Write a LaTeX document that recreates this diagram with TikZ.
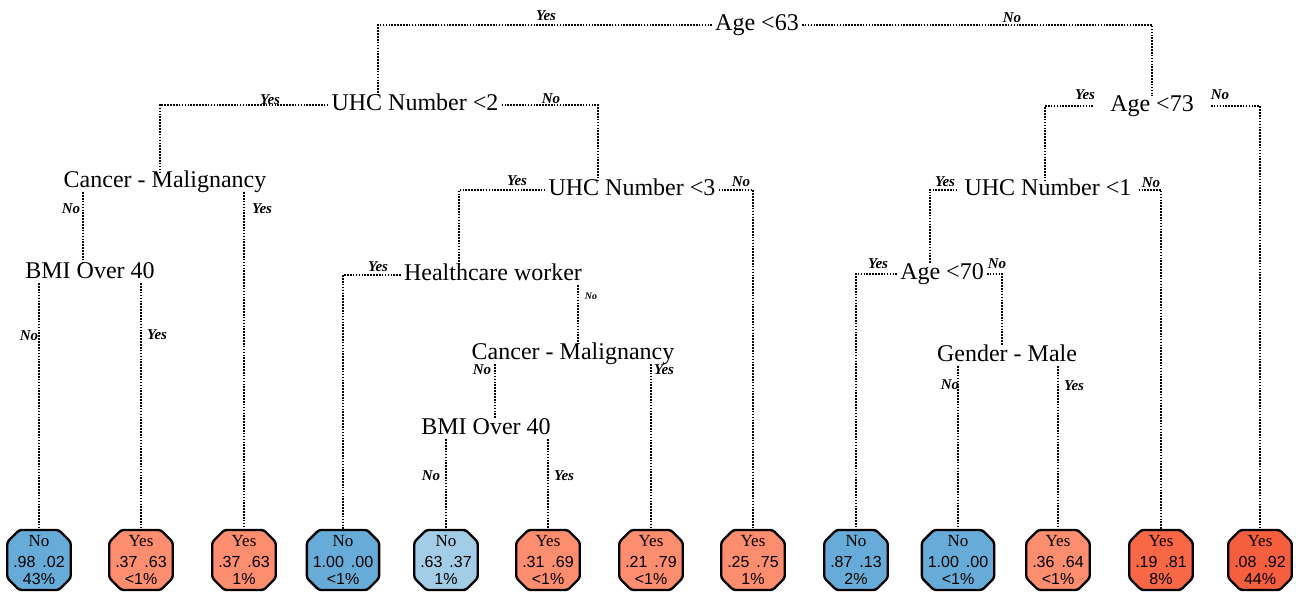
\documentclass[tikz,border=0pt]{standalone}
\usepackage{fontspec}
\setmainfont{Liberation Serif}
\setsansfont{Liberation Sans}
\usetikzlibrary{shapes.misc,backgrounds}
\definecolor{bluedark}{RGB}{103,172,216}
\definecolor{bluelight}{RGB}{163,205,230}
\definecolor{salmon}{RGB}{252,141,110}
\definecolor{redmid}{RGB}{248,103,70}
\definecolor{reddark}{RGB}{245,95,62}
\newcommand{\leaftext}[4]{{\rmfamily\fontsize{17}{17}\selectfont #1}\\[4pt]#2\hspace{7pt}#3\\#4}
\begin{document}
\begin{tikzpicture}[x=1pt,y=-1pt,
  split/.style={inner xsep=3pt, inner ysep=0pt, text height=16pt, text depth=4pt,
    font=\fontsize{24}{26}\selectfont},
  lab/.style={inner sep=0pt, font=\fontsize{15}{17}\selectfont\bfseries\itshape},
  smalllab/.style={inner sep=0pt, font=\fontsize{10}{12}\selectfont\bfseries\itshape},
  edge/.style={line width=2.2pt, dash pattern=on 1.6pt off 1.3pt},
  leaf/.style={chamfered rectangle, chamfered rectangle xsep=6pt, chamfered rectangle ysep=6pt,
    rounded corners=2.5pt, draw=black, line width=2.4pt, minimum width=55pt, minimum height=54pt,
    inner sep=0pt, text height=48pt, text depth=-7pt, align=center,
    font=\sffamily\fontsize{16}{17}\selectfont}]
\useasboundingbox (0,0) rectangle (1296,593);

% split nodes
\node[split] (root) at (757,25) {Age <63};
\node[split] (uhc2) at (415,105) {UHC Number <2};
\node[split] (c1) at (165,182) {Cancer - Malignancy};
\node[split] (bmi1) at (90,273) {BMI Over 40};
\node[split] (uhc3) at (632,190) {UHC Number <3};
\node[split] (hw) at (493,275) {Healthcare worker};
\node[split] (c2) at (573,354) {Cancer - Malignancy};
\node[split] (bmi2) at (486,429) {BMI Over 40};
\node[split, inner xsep=17pt] (age73) at (1152,106) {Age <73};
\node[split, inner xsep=7pt] (uhc1) at (1048,190) {UHC Number <1};
\node[split] (age70) at (942,274) {Age <70};
\node[split] (gm) at (1007,356) {Gender - Male};

% leaves
\node[leaf, fill=bluedark] (leaf1) at (39,560) {\leaftext{No}{.98}{.02}{43\%}};
\node[leaf, fill=salmon] (leaf2) at (141,560) {\leaftext{Yes}{.37}{.63}{<1\%}};
\node[leaf, fill=salmon] (leaf3) at (244,560) {\leaftext{Yes}{.37}{.63}{1\%}};
\node[leaf, fill=bluedark] (leaf4) at (343,560) {\leaftext{No}{1.00}{.00}{<1\%}};
\node[leaf, fill=bluelight] (leaf5) at (446,560) {\leaftext{No}{.63}{.37}{1\%}};
\node[leaf, fill=salmon] (leaf6) at (548,560) {\leaftext{Yes}{.31}{.69}{<1\%}};
\node[leaf, fill=salmon] (leaf7) at (651,560) {\leaftext{Yes}{.21}{.79}{<1\%}};
\node[leaf, fill=salmon] (leaf8) at (753,560) {\leaftext{Yes}{.25}{.75}{1\%}};
\node[leaf, fill=bluedark] (leaf9) at (856,560) {\leaftext{No}{.87}{.13}{2\%}};
\node[leaf, fill=bluedark] (leaf10) at (958,560) {\leaftext{No}{1.00}{.00}{<1\%}};
\node[leaf, fill=salmon] (leaf11) at (1058,560) {\leaftext{Yes}{.36}{.64}{<1\%}};
\node[leaf, fill=redmid] (leaf12) at (1161,560) {\leaftext{Yes}{.19}{.81}{8\%}};
\node[leaf, fill=reddark] (leaf13) at (1260,560) {\leaftext{Yes}{.08}{.92}{44\%}};

% edges
\begin{scope}[on background layer]
\draw[edge] (root.west) -| ([xshift=-37pt]uhc2.north);
\draw[edge] (root.east) -| (age73.north);
\draw[edge] (uhc2.west) -| ([xshift=-5pt]c1.north);
\draw[edge] (uhc2.east) -| ([xshift=-34pt]uhc3.north);
\draw[edge] ([xshift=-82pt]c1.south) -- ([xshift=-7pt]bmi1.north);
\draw[edge] (c1.south -| leaf3.north) -- (leaf3.north);
\draw[edge] (bmi1.south -| leaf1.north) -- (leaf1.north);
\draw[edge] (bmi1.south -| leaf2.north) -- (leaf2.north);
\draw[edge] (uhc3.west) -| ([xshift=-34pt]hw.north);
\draw[edge] (uhc3.east) -| (leaf8.north);
\draw[edge] (hw.west) -| (leaf4.north);
\draw[edge] ([xshift=85pt]hw.south) -- ([xshift=5pt]c2.north);
\draw[edge] ([xshift=-78pt]c2.south) -- ([xshift=9pt]bmi2.north);
\draw[edge] (c2.south -| leaf7.north) -- (leaf7.north);
\draw[edge] (bmi2.south -| leaf5.north) -- (leaf5.north);
\draw[edge] (bmi2.south -| leaf6.north) -- (leaf6.north);
\draw[edge] (age73.west) -| ([xshift=-3pt]uhc1.north);
\draw[edge] (age73.east) -| (leaf13.north);
\draw[edge] (uhc1.west) -| ([xshift=-12pt]age70.north);
\draw[edge] (uhc1.east) -| (leaf12.north);
\draw[edge] (age70.west) -| (leaf9.north);
\draw[edge] (age70.east) -| ([xshift=-5pt]gm.north);
\draw[edge] (gm.south -| leaf10.north) -- (leaf10.north);
\draw[edge] (gm.south -| leaf11.north) -- (leaf11.north);
\end{scope}

% branch labels
\node[lab] (l1) at (546,16) {Yes};
\node[lab] (l2) at (1012,18) {No};
\node[lab] (l3) at (270,100) {Yes};
\node[lab] (l4) at (551,99) {No};
\node[lab] (l5) at (71,209) {No};
\node[lab] (l6) at (262,209) {Yes};
\node[lab] (l7) at (29,336) {No};
\node[lab] (l8) at (157,335) {Yes};
\node[lab] (l9) at (517,181) {Yes};
\node[lab] (l10) at (741,182) {No};
\node[lab] (l11) at (378,267) {Yes};
\node[smalllab] (l12) at (591,296) {No};
\node[lab] (l13) at (482,370) {No};
\node[lab] (l14) at (664,370) {Yes};
\node[lab] (l15) at (431,476) {No};
\node[lab] (l16) at (564,476) {Yes};
\node[lab] (l17) at (1085,95) {Yes};
\node[lab] (l18) at (1220,95) {No};
\node[lab] (l19) at (945,182) {Yes};
\node[lab] (l20) at (1151,183) {No};
\node[lab] (l21) at (878,264) {Yes};
\node[lab] (l22) at (997,264) {No};
\node[lab] (l23) at (950,385) {No};
\node[lab] (l24) at (1074,386) {Yes};
\end{tikzpicture}
\end{document}
